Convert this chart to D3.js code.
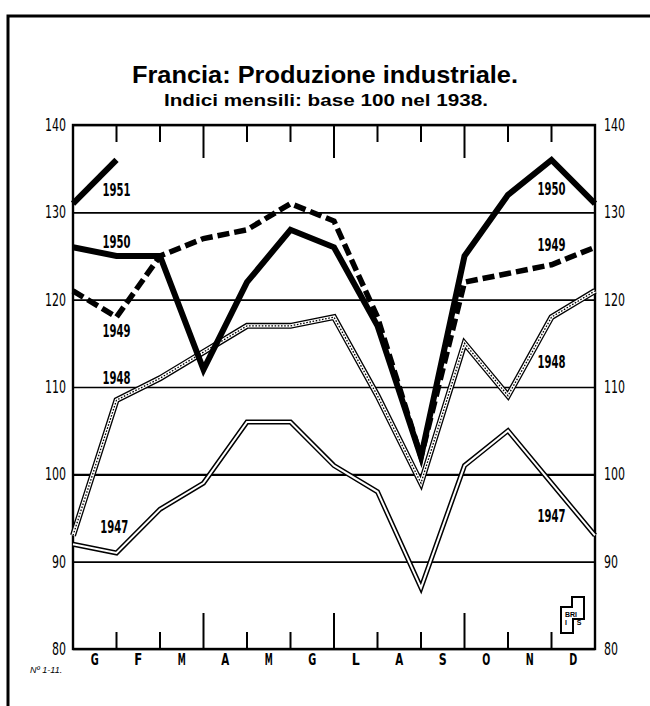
<!DOCTYPE html>
<html>
<head>
<meta charset="utf-8">
<script src="https://cdn.jsdelivr.net/npm/d3@7"></script>
<style>
  body { margin: 0; background: #fff; }
  svg { display: block; }
  .narrow { font-family: "Liberation Sans Narrow", "DejaVu Sans Condensed", "Liberation Sans", sans-serif; }
</style>
</head>
<body>
<svg width="650" height="706"></svg>
<script>
// month initials (Italian) - first point of each line is December of previous year
var months = ['G', 'F', 'M', 'A', 'M', 'G', 'L', 'A', 'S', 'O', 'N', 'D'];
var yTicks = [80, 90, 100, 110, 120, 130, 140];

// values, index 0 = dicembre anno precedente
var s1947 = [92, 91, 96, 99, 106, 106, 101, 98, 87, 101, 105, 99, 93];
var s1948 = [93, 108.5, 111, 114, 117, 117, 118, 109, 99, 115, 109, 118, 121];
var s1949 = [121, 118, 125, 127, 128, 131, 129, 118, 102, 122, 123, 124, 126];
var s1950 = [126, 125, 125, 112, 122, 128, 126, 117, 102, 125, 132, 136, 131];
var s1951 = [131, 136];

// year labels placed in data coords (month index, index value)
var yearLabels = [
    { t: '1951', i: 1.0, v: 132.6 },
    { t: '1950', i: 1.0, v: 126.6 },
    { t: '1949', i: 1.0, v: 116.4 },
    { t: '1948', i: 1.0, v: 111.1 },
    { t: '1947', i: 0.95, v: 94.0 },
    { t: '1950', i: 11.0, v: 132.7 },
    { t: '1949', i: 11.0, v: 126.3 },
    { t: '1948', i: 11.0, v: 112.9 },
    { t: '1947', i: 11.0, v: 95.3 }
];

var svg = d3.select('svg');
var padding = { t: 125, r: 55, b: 57, l: 73 };
var chartWidth = +svg.attr('width') - padding.l - padding.r;
var chartHeight = +svg.attr('height') - padding.t - padding.b;

var xScale = d3.scaleLinear().domain([0, 12]).range([0, chartWidth]);
var monthBand = d3.scaleBand().domain(d3.range(12)).range([0, chartWidth]);
var yScale = d3.scaleLinear().domain([80, 140]).range([chartHeight, 0]);

// outer frame of the page
svg.append('path')
    .attr('d', 'M8,706 L8,16 L650,16')
    .attr('fill', 'none')
    .attr('stroke', '#000')
    .attr('stroke-width', 3);

// titles (squeezed to the width of the condensed original type)
svg.append('text')
    .attr('x', 325).attr('y', 83)
    .attr('text-anchor', 'middle')
    .attr('textLength', 386)
    .attr('lengthAdjust', 'spacingAndGlyphs')
    .style('font-family', '"Liberation Sans", Arial, sans-serif')
    .style('font-weight', 'bold')
    .style('font-size', '24px')
    .text('Francia: Produzione industriale.');

svg.append('text')
    .attr('x', 326).attr('y', 106)
    .attr('text-anchor', 'middle')
    .attr('textLength', 324)
    .attr('lengthAdjust', 'spacingAndGlyphs')
    .style('font-family', '"Liberation Sans", Arial, sans-serif')
    .style('font-weight', 'bold')
    .style('font-size', '17px')
    .text('Indici mensili: base 100 nel 1938.');

var chartG = svg.append('g')
    .attr('transform', `translate(${padding.l}, ${padding.t})`);

// horizontal grid + left labels
var leftAxis = chartG.append('g')
    .attr('class', 'narrow')
    .call(d3.axisLeft(yScale).tickValues(yTicks).tickSizeInner(-chartWidth).tickSizeOuter(0).tickPadding(7));
leftAxis.select('.domain').remove();
leftAxis.selectAll('line')
    .attr('stroke', '#000')
    .attr('stroke-width', d => d === 100 ? 2.4 : 1.6);
leftAxis.selectAll('text')
    .attr('fill', '#000')
    .attr('textLength', d => String(d).length * 7)
    .attr('lengthAdjust', 'spacingAndGlyphs')
    .style('font-size', '17px');

var rightAxis = chartG.append('g')
    .attr('class', 'narrow')
    .attr('transform', `translate(${chartWidth}, 0)`)
    .call(d3.axisRight(yScale).tickValues(yTicks).tickSize(0).tickPadding(9));
rightAxis.select('.domain').remove();
rightAxis.selectAll('text')
    .attr('fill', '#000')
    .attr('textLength', d => String(d).length * 7)
    .attr('lengthAdjust', 'spacingAndGlyphs')
    .style('font-size', '17px');

// plot frame
chartG.append('rect')
    .attr('width', chartWidth)
    .attr('height', chartHeight)
    .attr('fill', 'none')
    .attr('stroke', '#000')
    .attr('stroke-width', 2.4);

// month ticks top and bottom, longer at quarter ends
var tickIdx = d3.range(1, 12);
chartG.selectAll('.tick-top')
    .data(tickIdx)
    .enter().append('line')
    .attr('class', 'tick-top')
    .attr('x1', d => xScale(d)).attr('x2', d => xScale(d))
    .attr('y1', 0).attr('y2', d => d % 3 === 0 ? 33 : 17)
    .attr('stroke', '#000').attr('stroke-width', 2);
chartG.selectAll('.tick-bot')
    .data(tickIdx)
    .enter().append('line')
    .attr('class', 'tick-bot')
    .attr('x1', d => xScale(d)).attr('x2', d => xScale(d))
    .attr('y1', chartHeight).attr('y2', d => chartHeight - (d % 3 === 0 ? 36 : 17))
    .attr('stroke', '#000').attr('stroke-width', 2);

// month labels
var bottomAxis = chartG.append('g')
    .attr('class', 'narrow')
    .attr('transform', `translate(0, ${chartHeight})`)
    .call(d3.axisBottom(monthBand).tickSize(0).tickPadding(5).tickFormat(i => months[i]));
bottomAxis.select('.domain').remove();
bottomAxis.selectAll('text')
    .attr('fill', '#000')
    .attr('textLength', 8)
    .attr('lengthAdjust', 'spacingAndGlyphs')
    .style('font-size', '15px')
    .style('font-weight', 'bold');

var line = d3.line()
    .x((d, i) => xScale(i))
    .y(d => yScale(d));

function drawLine(values, layers) {
    layers.forEach(function (l) {
        chartG.append('path')
            .datum(values)
            .attr('d', line)
            .attr('fill', 'none')
            .attr('stroke', l.c)
            .attr('stroke-width', l.w)
            .attr('stroke-dasharray', l.dash || null)
            .attr('stroke-linejoin', 'miter');
    });
}

// 1947: double line with white core
drawLine(s1947, [{ c: '#000', w: 5 }, { c: '#fff', w: 2 }]);
// 1948: double line with dotted core
drawLine(s1948, [{ c: '#000', w: 6 }, { c: '#fff', w: 3.4 }, { c: '#000', w: 1.3, dash: '1.6 1.6' }]);
// 1949: thick dashed
drawLine(s1949, [{ c: '#000', w: 5.5, dash: '12 5' }]);
// 1950 and 1951: thick solid
drawLine(s1950, [{ c: '#000', w: 6 }]);
drawLine(s1951, [{ c: '#000', w: 6 }]);

// year labels
chartG.selectAll('.year')
    .data(yearLabels)
    .enter().append('text')
    .attr('class', 'year narrow')
    .attr('x', d => xScale(d.i))
    .attr('y', d => yScale(d.v))
    .attr('dy', '0.35em')
    .attr('text-anchor', 'middle')
    .attr('textLength', 28)
    .attr('lengthAdjust', 'spacingAndGlyphs')
    .style('font-size', '18px')
    .style('font-weight', 'bold')
    .text(d => d.t);

// small logo bottom right
var logo = svg.append('g').attr('transform', 'translate(561, 597)');
logo.append('path')
    .attr('d', 'M0,10 L11,10 L11,0 L23,0 L23,22 L12,22 L12,36 L0,36 Z')
    .attr('fill', '#fff').attr('stroke', '#000').attr('stroke-width', 2);
logo.append('text').attr('x', 10).attr('y', 20).attr('text-anchor', 'middle')
    .style('font-family', 'sans-serif').style('font-size', '7px').style('font-weight', 'bold').text('BRI');
logo.append('text').attr('x', 18).attr('y', 28).attr('text-anchor', 'middle')
    .style('font-family', 'sans-serif').style('font-size', '7px').style('font-weight', 'bold').text('S');
logo.append('text').attr('x', 5).attr('y', 28).attr('text-anchor', 'middle')
    .style('font-family', 'sans-serif').style('font-size', '7px').style('font-weight', 'bold').text('I');

// plate number
svg.append('text')
    .attr('x', 30).attr('y', 673)
    .style('font-family', '"Liberation Sans", sans-serif')
    .style('font-style', 'italic')
    .style('font-size', '9px')
    .text('Nº 1-11.');
</script>
</body>
</html>
